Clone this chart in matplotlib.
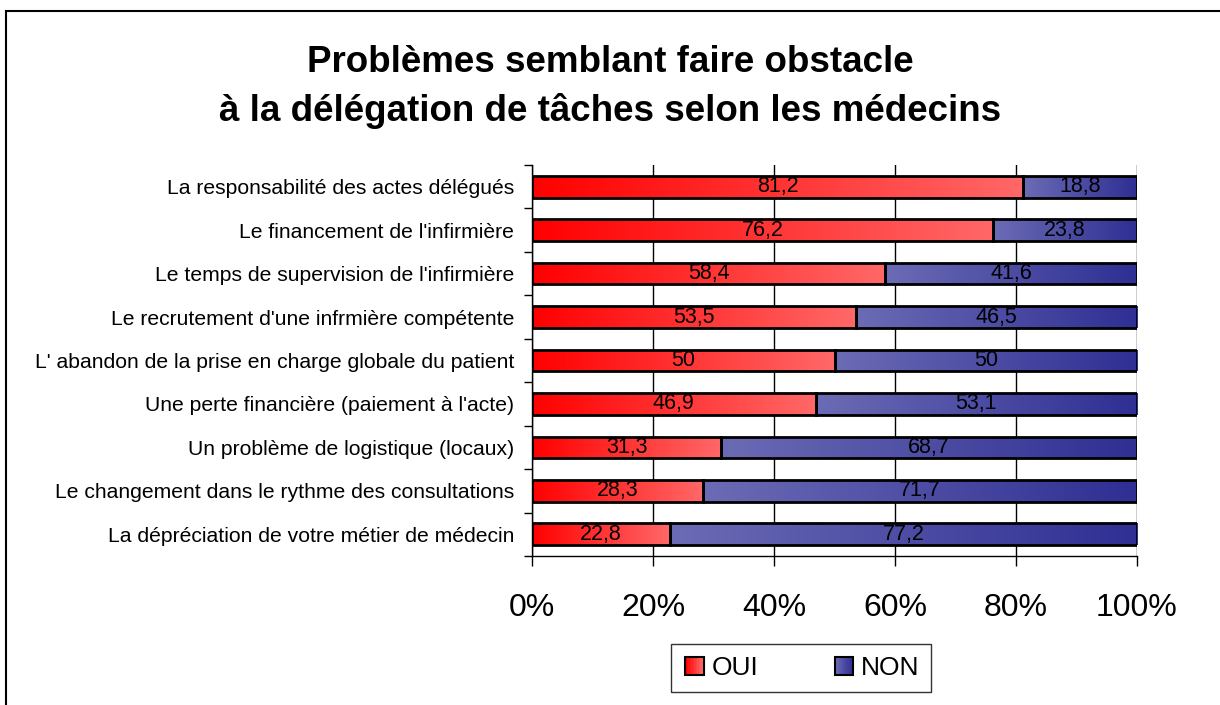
import numpy as np
import matplotlib
matplotlib.use("Agg")
import matplotlib.pyplot as plt
from matplotlib.patches import Rectangle
from matplotlib.legend_handler import HandlerBase
from matplotlib.colors import LinearSegmentedColormap

plt.rcParams['font.family'] = ['Liberation Sans', 'DejaVu Sans']

categories = [
    "La responsabilité des actes délégués",
    "Le financement de l'infirmière",
    "Le temps de supervision de l'infirmière",
    "Le recrutement d'une infrmière compétente",
    "L' abandon de la prise en charge globale du patient",
    "Une perte financière (paiement à l'acte)",
    "Un problème de logistique (locaux)",
    "Le changement dans le rythme des consultations",
    "La dépréciation de votre métier de médecin",
]
oui = [81.2, 76.2, 58.4, 53.5, 50, 46.9, 31.3, 28.3, 22.8]
non = [18.8, 23.8, 41.6, 46.5, 50, 53.1, 68.7, 71.7, 77.2]
series_names = ["OUI", "NON"]
xticks = [0, 20, 40, 60, 80, 100]

red_cmap = LinearSegmentedColormap.from_list("r", ["#ff0000", "#ff6868"])
blue_cmap = LinearSegmentedColormap.from_list("b", ["#6b6bb5", "#2f2f94"])
grad = np.linspace(0, 1, 256).reshape(1, -1)

fig = plt.figure(figsize=(12.2, 7.05), dpi=100)
ax = fig.add_axes([532/1220, 1-556/705, (1137-532)/1220, (556-165)/705])

y = np.arange(len(categories))[::-1]
h = 0.5

def fill_gradient(bars, cmap):
    for b in bars:
        x0, y0 = b.get_x(), b.get_y()
        w, hh = b.get_width(), b.get_height()
        im = ax.imshow(grad, cmap=cmap, aspect='auto', extent=(x0, x0 + w, y0, y0 + hh),
                       zorder=2, interpolation='bilinear')
        im.set_clip_path(b)

b1 = ax.barh(y, oui, height=h, color='none', edgecolor='black', linewidth=2, zorder=3)
b2 = ax.barh(y, non, left=oui, height=h, color='none', edgecolor='black', linewidth=2, zorder=3)
fill_gradient(b1, red_cmap)
fill_gradient(b2, blue_cmap)

def fmt(v):
    return ("%g" % v).replace('.', ',')

for yi, a, b in zip(y, oui, non):
    ax.text(a / 2, yi, fmt(a), ha='center', va='center', fontsize=15.5, zorder=4)
    ax.text(a + b / 2, yi, fmt(b), ha='center', va='center', fontsize=15.5, zorder=4)

ax.set_xlim(0, 100)
ax.set_ylim(-0.5, len(categories) - 0.5)
ax.set_xticks(xticks)
ax.set_xticklabels([f"{t}%" for t in xticks], fontsize=23)
ax.set_yticks(y)
ax.set_yticklabels(categories, fontsize=15.2)
ax.set_yticks(np.arange(len(categories) + 1) - 0.5, minor=True)
ax.tick_params(axis='y', which='major', length=0, pad=13)
ax.tick_params(axis='y', which='minor', length=6, width=1, direction='out')
ax.tick_params(axis='x', length=7, width=1, direction='out', pad=20)
ax.grid(axis='x', color='black', linewidth=1, zorder=1)
ax.set_axisbelow(True)
for s in ['top', 'right']:
    ax.spines[s].set_visible(False)
for s in ['left', 'bottom']:
    ax.spines[s].set_linewidth(1)

fig.text(0.5, 1 - 62/705, "Problèmes semblant faire obstacle", ha='center', va='center',
         fontsize=26.5, fontweight='bold')
fig.text(0.5, 1 - 111/705, "à la délégation de tâches selon les médecins", ha='center', va='center',
         fontsize=26.5, fontweight='bold')

class GradHandler(HandlerBase):
    def __init__(self, cmap):
        super().__init__()
        self.cmap = cmap
    def create_artists(self, legend, orig_handle, xdescent, ydescent, width, height, fontsize, trans):
        s = height * 1.0
        x0 = -xdescent + width - s
        y0 = -ydescent + (height - s) / 2
        arts = []
        n = 12
        for i in range(n):
            r = Rectangle((x0 + i * s / n, y0), s / n + 0.3, s, facecolor=self.cmap(i / (n - 1)),
                          edgecolor='none', transform=trans)
            arts.append(r)
        arts.append(Rectangle((x0, y0), s, s, facecolor='none', edgecolor='black', linewidth=1.5,
                              transform=trans))
        return arts

h1 = Rectangle((0, 0), 1, 1)
h2 = Rectangle((0, 0), 1, 1)
leg = fig.legend([h1, h2], series_names, handler_map={h1: GradHandler(red_cmap), h2: GradHandler(blue_cmap)},
                 loc='center', bbox_to_anchor=(801/1220, 1 - 668/705), ncol=2, fontsize=19,
                 frameon=True, fancybox=False, edgecolor='black', handlelength=0.8,
                 handletextpad=0.3, columnspacing=2.8, borderpad=0.45, borderaxespad=0)
leg.get_frame().set_linewidth(1)

fig.patches.append(Rectangle((6/1220, -0.1), 1.2, 1.1 - 11/705, transform=fig.transFigure,
                             facecolor='none', edgecolor='black', linewidth=1.5))

fig.savefig("out.png", dpi=100)
